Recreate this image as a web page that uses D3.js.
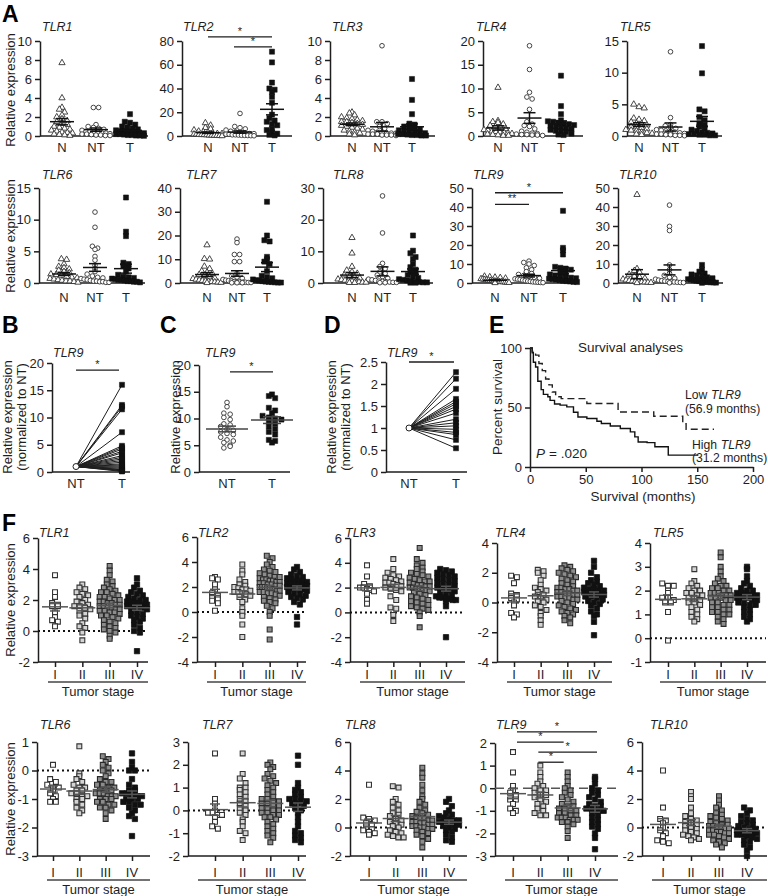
<!DOCTYPE html>
<html><head><meta charset="utf-8">
<script src="https://cdn.jsdelivr.net/npm/d3@7"></script>
<style>body{margin:0;background:#fff}</style>
</head><body>
<svg id="c" width="768" height="896"></svg>
<script>
// ---------------- DATA ----------------
const catsA = ["N", "NT", "T"];
const catsF = ["I", "II", "III", "IV"];
const genes = ["TLR1","TLR2","TLR3","TLR4","TLR5","TLR6","TLR7","TLR8","TLR9","TLR10"];

// Panel A: relative expression (N = normal, NT = non-tumor, T = tumor)
const a1N  = [7.7,4.0,3.0,2.8,2.5,2.2,2.0,1.8,1.6,1.5,1.3,1.2,1.0,0.9,0.8,0.7,0.6,0.5,0.4,0.35,0.3,0.2,0.15,0.1,0.05];
const a1NT = [3.0,3.0,1.2,1.0,0.9,0.8,0.7,0.6,0.5,0.5,0.4,0.4,0.3,0.3,0.25,0.2,0.2,0.15,0.1,0.1,0.05,0.05];
const a1T  = [2.3,1.5,1.4,1.2,1.0,0.9,0.8,0.7,0.6,0.5,0.5,0.4,0.4,0.3,0.3,0.2,0.2,0.15,0.1,0.1,0.05,0.05,0.02];
const a2N  = [11,9,7,6,5,4,3.5,3,2.5,2,2,1.5,1.5,1.2,1,1,0.8,0.6,0.5,0.4,0.3,0.2,0.1];
const a2NT = [19,8,7,6,5,4,3.5,3,2.5,2,2,1.5,1.5,1,1,0.8,0.6,0.5,0.4,0.3,0.2];
const a2T  = [71,62,45,40,39,37,33,28,18,15,13,12,10,9,6,5,3,2,1,0.5];
const a3N  = [2.5,2.4,2.2,2.0,1.9,1.8,1.7,1.6,1.5,1.5,1.4,1.3,1.2,1.1,1.0,0.9,0.8,0.7,0.6,0.5,0.4,0.3,0.2,0.1];
const a3NT = [9.5,1.5,1.5,1.3,1.0,0.8,0.6,0.5,0.4,0.4,0.3,0.3,0.3,0.2,0.2,0.2,0.1,0.1,0.1,0.05];
const a3T  = [6.0,3.8,2.3,1.3,1.2,1.0,0.9,0.8,0.7,0.6,0.5,0.4,0.4,0.3,0.3,0.2,0.2,0.15,0.1,0.1,0.05,0.05];
const a4N  = [10.2,3.2,3.0,2.8,2.5,2.2,2.0,1.8,1.5,1.3,1.2,1.0,0.9,0.8,0.7,0.6,0.5,0.4,0.3,0.2,0.1,0.1];
const a4NT = [19,14,9.2,8.2,7.8,5.6,3.0,2.5,2.2,2.0,1.5,1.0,0.8,0.6,0.5,0.4,0.3,0.3,0.2,0.2,0.1];
const a4T  = [12.7,6.3,4.6,3.3,3.1,3.0,2.8,2.6,2.5,2.3,2.1,2.0,1.8,1.6,1.5,1.3,1.1,1.0,0.8,0.5,0.3,0.2];
const a5N  = [5.0,4.6,4.4,2.8,2.6,2.4,2.2,2.0,1.9,1.7,1.5,1.4,1.3,1.1,1.0,0.9,0.8,0.6,0.5,0.4,0.3,0.2];
const a5NT = [13.3,2.9,1.8,1.6,1.4,1.2,1.0,0.9,0.8,0.7,0.6,0.5,0.4,0.3,0.3,0.2,0.2,0.1,0.1,0.05];
const a5T  = [14.2,9.9,4.2,3.9,3.0,2.5,2.0,1.7,1.5,1.2,1.0,0.8,0.6,0.5,0.4,0.3,0.3,0.2,0.2,0.1,0.1];
const a6N  = [3.8,3.7,3.0,2.6,2.4,2.2,2.0,1.8,1.6,1.4,1.3,1.2,1.0,0.9,0.8,0.7,0.6,0.5,0.4,0.3,0.3,0.2,0.1];
const a6NT = [11.2,8.8,5.8,5.5,5.3,4.2,3.6,2.8,2.2,1.8,1.4,1.1,0.9,0.8,0.7,0.6,0.5,0.4,0.3,0.3,0.2,0.2,0.1,0.1];
const a6T  = [13.5,8.1,7.4,3.2,3.0,2.7,2.3,1.8,1.3,1.0,0.9,0.8,0.7,0.6,0.5,0.5,0.4,0.3,0.3,0.2,0.2,0.1];
const a7N  = [16,10.2,10,7,6,5,4.5,4,3.5,3,2.5,2,1.8,1.5,1.2,1,0.8,0.6,0.5,0.4,0.3,0.2,0.1];
const a7NT = [18.5,17,12,12,9,9,4,3,2.5,2,1.5,1.2,1,0.8,0.6,0.5,0.4,0.3,0.3,0.2,0.2,0.1,0.1,0.1];
const a7T  = [34.2,20,18,17.5,11,10,9,8,5,3,2.5,2,1.5,1.2,1,0.8,0.6,0.5,0.4,0.3,0.2,0.2];
const a8N  = [14.3,9.4,5.2,4.0,3.5,3.0,2.5,2.0,1.8,1.5,1.2,1.0,0.8,0.6,0.5,0.4,0.3,0.2,0.2,0.1,0.1];
const a8NT = [27.5,15.8,6.2,5.2,4.5,3.5,3.0,2.5,2.0,1.5,1.2,1.0,0.8,0.6,0.5,0.4,0.3,0.2,0.2,0.1,0.1];
const a8T  = [15,10.2,9.4,8.2,7.6,6.0,5.0,4.2,3.5,3.0,2.5,2.0,1.6,1.2,1.0,0.8,0.6,0.4,0.3,0.2,0.2,0.1,0.1];
const a9N  = [3.5,3.2,3.0,2.8,2.5,2.2,2.0,1.8,1.6,1.5,1.3,1.2,1.0,0.9,0.8,0.7,0.6,0.5,0.4,0.3,0.2,0.1];
const a9NT = [11.5,10.8,10,9.2,8,7,6,5,4.5,4,3.5,3,2.5,2.2,2,1.8,1.5,1.2,1,0.8,0.6,0.5,0.4,0.3,0.2];
const a9T  = [38,18.5,17.2,15,8.5,8,7.6,7,6,5,4.5,4,3.5,3,2.8,2.5,2.2,2,1.8,1.5,1.2,1,0.8,0.6,0.5];
const a10N  = [46.5,7.5,6.5,5.5,4.5,3.5,3,2.5,2,1.5,1.2,1,0.8,0.6,0.5,0.4,0.3,0.2,0.1];
const a10NT = [41,29.8,27.6,9.5,7,5,4,3,2.5,2,1.5,1.2,1,0.8,0.6,0.5,0.4,0.3,0.2,0.1];
const a10T  = [9.5,7,6,5,4.5,4,3.5,3,2.5,2,1.8,1.5,1.2,1,0.8,0.6,0.5,0.4,0.3,0.2,0.1];
const ticksA = [[0,2,4,6,8,10],[0,20,40,60,80],[0,2,4,6,8,10],[0,5,10,15,20],[0,5,10,15],
                [0,5,10,15],[0,10,20,30,40],[0,10,20,30],[0,10,20,30,40,50],[0,10,20,30,40,50]];

// Panel B: TLR9 tumor vs paired NT (normalized to NT = 1)
const bNT = 1;
const bT = [16,12.3,12,11.5,7.3,4.8,4.5,4.2,3.8,3.5,3.0,2.7,2.4,2.1,1.8,1.5,1.3,1.1,0.9,0.7,0.5,0.4,0.3,0.2,0.1];
const ticksB = [0,5,10,15,20];
// Panel C
const cNT = [13.0,12.2,11.0,10.8,10.2,9.8,9.0,8.8,8.5,8.0,7.8,7.5,7.2,7.0,6.5,6.0,5.8,5.5,5.0,4.5,4.8];
const cT  = [14.5,14.2,13.8,12.0,11.5,11.0,10.5,10.2,10.0,9.8,9.5,9.0,8.5,8.0,7.5,7.0,6.0,5.8,5.5];
const ticksC = [0,5,10,15,20];
// Panel D
const dNT = 1;
const dT = [2.27,2.12,1.89,1.66,1.6,1.55,1.49,1.43,1.34,1.2,1.12,1.05,0.97,0.9,0.85,0.73,0.54];
const ticksD = [0,0.5,1,1.5,2,2.5];
// Panel E: Kaplan-Meier (months, percent survival)
const lowTime  = [0,2,5,8,11,14,17,20,23,28,51,79,111,137,140,165];
const lowSurv  = [100,97,94,87,81,74,69,63,59,57.5,53.3,46.2,42.6,36.4,31.7,31.7];
const highTime = [0,2,3,5,7,10,12,16,18,22,27,33,39,43,51,60,64,72,81,90,94,97,105,112,124,151];
const highSurv = [100,96,88,84,72,65,61,59,56,53,52,50.5,46,42,40.7,38.4,36.5,34.5,32.3,29.5,25.3,21,20.5,17,10,10];
const ticksEx = [0,50,100,150,200];
const ticksEy = [0,50,100];

// Panel F: expression by tumor stage
const f1I = [3.6,2.5,2.2,1.8,1.7,1.6,1.6,1.2,0.9,0.7,0.6,0.3];
const f1II = [3.0,2.8,2.7,2.5,2.4,2.3,2.2,2.0,1.9,1.8,1.7,1.6,1.6,1.5,1.4,1.3,1.1,1.0,0.8,0.5,0.3,0.2,-0.1,-0.6];
const f1III = [4.2,3.9,3.6,3.3,3.2,3.0,2.9,2.8,2.7,2.6,2.5,2.5,2.4,2.3,2.2,2.2,2.1,2.0,2.0,1.9,1.9,1.8,1.8,1.7,1.7,1.6,1.6,1.5,1.5,1.4,1.4,1.3,1.3,1.2,1.2,1.1,1.0,1.0,0.9,0.8,0.7,0.6,0.5,0.4,0.3,0.2,0.1,0.0,-0.1,-0.3,-0.5];
const f1IV = [3.4,3.0,2.8,2.6,2.5,2.4,2.3,2.2,2.1,2.0,2.0,1.9,1.9,1.8,1.8,1.7,1.7,1.6,1.6,1.5,1.5,1.4,1.3,1.2,1.1,1.0,0.9,0.8,0.7,0.6,0.4,0.2,0.0,-0.1,-1.3];
const f2I = [2.8,2.7,2.6,2.2,1.8,1.5,1.3,1.2,1.0,0.9,0.7,0.1];
const f2II = [3.8,3.3,3.0,2.6,2.4,2.2,2.1,2.0,1.9,1.8,1.8,1.7,1.6,1.6,1.5,1.4,1.3,1.2,1.0,0.8,0.3,0.0,-0.3,-1.0,-2.0];
const f2III = [4.5,4.3,4.0,3.8,3.6,3.4,3.3,3.2,3.1,3.0,2.9,2.8,2.8,2.7,2.6,2.6,2.5,2.5,2.4,2.4,2.3,2.3,2.2,2.2,2.1,2.1,2.0,2.0,2.0,1.9,1.9,1.8,1.8,1.7,1.7,1.6,1.6,1.5,1.5,1.4,1.3,1.2,1.1,1.0,0.9,0.8,0.7,0.5,0.3,0.0,-0.3,-1.4,-2.2];
const f2IV = [3.6,3.4,3.2,3.0,2.9,2.8,2.7,2.6,2.5,2.5,2.4,2.4,2.3,2.3,2.2,2.2,2.1,2.1,2.0,2.0,1.9,1.9,1.8,1.8,1.7,1.6,1.5,1.4,1.3,1.2,1.1,1.0,0.8,0.6,-0.4,-1.0];
const f3I = [3.8,2.9,2.3,2.1,2.0,2.0,1.9,1.8,1.7,1.5,1.0,0.7];
const f3II = [4.3,3.5,3.2,3.0,2.9,2.8,2.7,2.6,2.5,2.4,2.4,2.3,2.2,2.1,2.0,1.9,1.8,1.7,1.3,1.0,0.4,0.3,-0.2,-0.7];
const f3III = [5.2,4.3,4.0,3.8,3.6,3.5,3.3,3.2,3.1,3.0,2.9,2.8,2.7,2.6,2.5,2.5,2.4,2.3,2.2,2.2,2.1,2.1,2.0,2.0,1.9,1.9,1.8,1.8,1.7,1.6,1.5,1.4,1.3,1.2,1.1,1.0,0.9,0.8,0.7,0.6,0.5,0.4,0.3,0.2,0.0,-0.3,-1.2];
const f3IV = [3.5,3.4,3.3,3.2,3.1,3.0,2.9,2.8,2.7,2.6,2.5,2.4,2.3,2.2,2.1,2.0,1.9,1.8,1.7,1.6,1.5,1.4,1.3,1.2,1.2,1.1,1.1,1.0,1.0,0.9,0.5,-2.0];
const f4I = [1.8,1.7,1.3,0.6,0.5,0.3,0.2,0.0,-0.2,-0.7,-0.8,-1.0];
const f4II = [2.2,2.1,2.0,1.8,1.5,1.2,1.0,0.9,0.8,0.7,0.5,0.4,0.3,0.2,0.1,0.0,-0.2,-0.3,-0.5,-0.7,-0.9,-1.2,-1.5];
const f4III = [2.5,2.4,2.3,2.2,2.1,2.0,1.9,1.8,1.7,1.6,1.5,1.4,1.3,1.2,1.1,1.0,1.0,0.9,0.9,0.8,0.8,0.7,0.7,0.6,0.6,0.5,0.5,0.4,0.4,0.3,0.3,0.2,0.2,0.1,0.0,-0.1,-0.2,-0.3,-0.4,-0.5,-0.6,-0.7,-0.8,-0.9,-1.0,-1.2,-1.4];
const f4IV = [2.8,2.4,2.0,1.7,1.5,1.4,1.3,1.2,1.1,1.0,0.9,0.9,0.8,0.8,0.7,0.7,0.6,0.6,0.5,0.5,0.4,0.4,0.3,0.2,0.1,0.0,-0.1,-0.2,-0.4,-0.6,-0.8,-0.9,-1.3,-2.2];
const f5I = [2.3,2.2,2.2,2.0,1.9,1.7,1.7,1.6,1.5,1.5,1.1,-0.1];
const f5II = [2.9,2.4,2.3,2.2,2.1,2.0,2.0,1.9,1.9,1.8,1.8,1.7,1.7,1.6,1.5,1.5,1.4,1.3,1.2,1.1,1.0,0.9,0.8,0.7];
const f5III = [3.6,3.4,3.0,2.8,2.6,2.5,2.4,2.3,2.2,2.2,2.1,2.1,2.0,2.0,1.9,1.9,1.9,1.8,1.8,1.8,1.7,1.7,1.7,1.6,1.6,1.5,1.5,1.4,1.4,1.3,1.3,1.2,1.2,1.1,1.1,1.0,1.0,0.9,0.8,0.7,0.6];
const f5IV = [3.0,2.9,2.6,2.4,2.3,2.2,2.1,2.0,2.0,1.9,1.9,1.8,1.8,1.8,1.7,1.7,1.7,1.6,1.6,1.5,1.5,1.4,1.4,1.3,1.2,1.1,1.0,0.9,0.8,0.7];
const f6I = [0.2,-0.3,-0.4,-0.5,-0.6,-0.6,-0.7,-0.8,-0.9,-1.0,-1.1,-1.1];
const f6II = [0.85,-0.1,-0.2,-0.3,-0.4,-0.5,-0.6,-0.6,-0.7,-0.7,-0.8,-0.8,-0.9,-0.9,-1.0,-1.0,-1.1,-1.2,-1.3,-1.4,-1.5];
const f6III = [0.5,0.4,0.3,0.2,0.1,0.0,-0.1,-0.2,-0.3,-0.4,-0.4,-0.5,-0.5,-0.6,-0.6,-0.7,-0.7,-0.7,-0.8,-0.8,-0.8,-0.9,-0.9,-0.9,-1.0,-1.0,-1.0,-1.1,-1.1,-1.2,-1.2,-1.3,-1.3,-1.4,-1.5,-1.7];
const f6IV = [0.6,0.3,0.1,0.0,0.0,-0.3,-0.5,-0.6,-0.7,-0.7,-0.8,-0.8,-0.9,-0.9,-0.9,-1.0,-1.0,-1.0,-1.1,-1.1,-1.2,-1.2,-1.3,-1.4,-1.5,-1.6,-1.7,-2.3];
const f7I = [2.5,0.5,0.3,0.0,-0.1,-0.1,-0.2,-0.2,-0.3,-0.5,-0.7,-0.8];
const f7II = [2.5,1.6,1.4,1.2,1.0,1.0,0.9,0.8,0.7,0.6,0.5,0.4,0.3,0.2,0.1,0.0,-0.1,-0.2,-0.4,-0.5,-0.7,-0.9,-1.0,-1.3];
const f7III = [2.1,2.0,1.9,1.8,1.6,1.5,1.4,1.3,1.2,1.1,1.0,0.9,0.8,0.7,0.6,0.5,0.5,0.4,0.4,0.3,0.3,0.2,0.2,0.1,0.1,0.0,0.0,-0.1,-0.1,-0.2,-0.2,-0.3,-0.3,-0.4,-0.5,-0.6,-0.7,-0.8,-0.9,-1.0,-1.1,-1.2,-1.4];
const f7IV = [2.4,2.0,1.2,1.0,0.9,0.8,0.7,0.6,0.5,0.5,0.4,0.4,0.3,0.3,0.2,0.1,0.0,-0.1,-0.3,-0.5,-0.7,-0.9,-1.0,-1.1,-1.2,-1.3,-1.4];
const f8I = [3.0,0.7,0.6,0.5,0.3,0.2,0.0,-0.1,-0.2,-0.3,-0.4,-0.5];
const f8II = [2.9,2.8,2.0,1.8,1.6,1.4,1.2,1.0,0.9,0.8,0.6,0.5,0.4,0.3,0.2,0.1,0.0,-0.2,-0.3,-0.4,-0.5,-0.6,-0.7,-0.7];
const f8III = [4.2,3.8,3.5,3.0,2.6,2.2,2.0,1.8,1.6,1.4,1.2,1.1,1.0,0.9,0.8,0.7,0.6,0.6,0.5,0.5,0.4,0.4,0.3,0.3,0.2,0.2,0.1,0.1,0.0,0.0,-0.1,-0.1,-0.2,-0.3,-0.4,-0.5,-0.6,-0.8,-1.0,-1.4];
const f8IV = [2.0,1.8,1.5,1.2,1.0,0.9,0.8,0.7,0.6,0.5,0.5,0.4,0.4,0.3,0.3,0.2,0.2,0.1,0.0,-0.1,-0.2,-0.3,-0.5,-0.7,-0.9,-1.0];
const f9I = [1.6,0.7,0.1,-0.1,-0.2,-0.3,-0.5,-0.5,-0.7,-0.9,-1.0,-1.1];
const f9II = [1.0,0.7,0.5,0.3,0.2,0.1,0.0,-0.1,-0.1,-0.2,-0.3,-0.3,-0.4,-0.5,-0.6,-0.7,-0.8,-0.9,-1.0,-1.1,-1.2,-1.2];
const f9III = [0.7,0.5,0.3,0.1,0.0,-0.1,-0.2,-0.3,-0.4,-0.5,-0.6,-0.7,-0.8,-0.8,-0.9,-0.9,-1.0,-1.0,-1.1,-1.1,-1.2,-1.2,-1.3,-1.3,-1.3,-1.4,-1.4,-1.4,-1.5,-1.5,-1.6,-1.7,-1.9,-2.2];
const f9IV = [0.5,0.4,0.2,0.0,-0.1,-0.2,-0.3,-0.4,-0.5,-0.6,-0.7,-0.8,-0.8,-0.9,-0.9,-1.0,-1.0,-1.1,-1.2,-1.3,-1.4,-1.5,-1.6,-1.7,-1.8,-2.0,-2.2,-2.7];
const f10I = [4.0,1.4,0.6,0.5,0.3,0.0,-0.2,-0.4,-0.6,-0.9,-1.0,-1.1];
const f10II = [2.5,2.2,2.0,1.4,1.0,0.8,0.6,0.5,0.4,0.3,0.2,0.1,0.0,-0.1,-0.2,-0.3,-0.4,-0.5,-0.6,-0.7,-0.8,-0.9];
const f10III = [2.2,1.9,1.6,1.4,1.2,1.0,0.9,0.8,0.7,0.6,0.5,0.4,0.3,0.2,0.2,0.1,0.1,0.0,0.0,-0.1,-0.1,-0.2,-0.2,-0.3,-0.3,-0.4,-0.4,-0.5,-0.5,-0.6,-0.7,-0.8,-0.9,-1.0,-1.1,-1.2,-1.4];
const f10IV = [1.4,1.2,1.0,0.8,0.6,0.5,0.4,0.3,0.2,0.1,0.0,-0.1,-0.1,-0.2,-0.2,-0.3,-0.3,-0.4,-0.4,-0.5,-0.5,-0.6,-0.7,-0.8,-0.9,-1.0,-1.2,-1.4,-1.6,-2.0];
const ticksF = [[-2,0,2,4,6],[-4,-2,0,2,4,6],[-4,-2,0,2,4,6],[-4,-2,0,2,4],[-1,0,1,2,3,4],
                [-3,-2,-1,0,1],[-2,-1,0,1,2,3],[-2,0,2,4,6],[-3,-2,-1,0,1,2],[-2,0,2,4,6]];

// ---------------- DRAWING ----------------
const svg = d3.select("#c");
const FONT = "'Liberation Sans', Arial, Helvetica, sans-serif";
const INK = "#1e1e1e";

function txt(x, y, s, o = {}) {
  const t = svg.append("text").attr("x", x).attr("y", y).text(s)
    .attr("font-family", FONT).attr("font-size", o.size || 13).attr("fill", o.fill || INK)
    .attr("text-anchor", o.anchor || "start");
  if (o.italic) t.attr("font-style", "italic");
  if (o.bold) t.attr("font-weight", "bold");
  if (o.rot) t.attr("transform", `rotate(-90,${x},${y})`);
  return t;
}
// two-part text (plain + italic) as separate elements placed side by side with a word gap
function txt2(x, y, a, b, o = {}, aItalic = false) {
  const t1 = txt(x, y, a, Object.assign({}, o, {italic: aItalic}));
  const w = t1.node().getComputedTextLength();
  const gap = (o.size || 13) * 0.3;
  txt(x + w + gap, y, b, Object.assign({}, o, {italic: !aItalic}));
}
function line(x1, y1, x2, y2, o = {}) {
  return svg.append("line").attr("x1", x1).attr("y1", y1).attr("x2", x2).attr("y2", y2)
    .attr("stroke", o.stroke || INK).attr("stroke-width", o.sw || 1.5)
    .attr("stroke-dasharray", o.dash || null);
}
function styleAxis(g) {
  g.select(".domain").attr("stroke", INK).attr("stroke-width", 1.5);
  g.selectAll(".tick line").attr("stroke", INK).attr("stroke-width", 1.5);
  g.selectAll(".tick text").attr("font-family", FONT).attr("font-size", 13).attr("fill", INK);
}
function yAxis(ax, y, ticks) {
  const g = svg.append("g").attr("transform", `translate(${ax},0)`)
    .call(d3.axisLeft(y).tickValues(ticks).tickSize(5).tickSizeOuter(0).tickPadding(3).tickFormat(d => String(d)));
  styleAxis(g);
}
const MK = {
  tri:  {sym: d3.symbolTriangle, size: 17, fill: "#fff", stroke: "#333", sw: 0.9},
  circ: {sym: d3.symbolCircle, size: 17, fill: "#fff", stroke: "#333", sw: 0.9},
  sq:   {sym: d3.symbolSquare, size: 26, fill: "#111", stroke: "#111", sw: 0.5},
  fI:   {sym: d3.symbolSquare, size: 24, fill: "#fff", stroke: "#333", sw: 1.1},
  fII:  {sym: d3.symbolSquare, size: 24, fill: "#d4d4d4", stroke: "#333", sw: 1.1},
  fIII: {sym: d3.symbolSquare, size: 24, fill: "#8c8c8c", stroke: "#2a2a2a", sw: 1.1},
  fIV:  {sym: d3.symbolSquare, size: 28, fill: "#111", stroke: "#111", sw: 0.8}
};
function mark(x, y, k) {
  const m = MK[k];
  svg.append("path").attr("d", d3.symbol(m.sym, m.size)()).attr("transform", `translate(${x},${y})`)
    .attr("fill", m.fill).attr("stroke", m.stroke).attr("stroke-width", m.sw);
}
function swarm(vals, y, size, maxHalf) {
  const pts = vals.map(v => ({v, py: y(v)}));
  d3.groups(pts, p => Math.round(p.py / (size * 0.85))).forEach(([k, arr]) => {
    const n = arr.length;
    const step = n > 1 ? Math.min(size * 1.05, 2 * maxHalf / (n - 1)) : 0;
    arr.forEach((p, i) => p.dx = (i - (n - 1) / 2) * step);
  });
  return pts;
}
function meanBar(x, vals, y, w, cw, color) {
  const m = d3.mean(vals), se = d3.deviation(vals) / Math.sqrt(vals.length);
  const o = {stroke: color, sw: 1.5};
  line(x, y(m - se), x, y(m + se), o);
  line(x - cw / 2, y(m + se), x + cw / 2, y(m + se), o);
  line(x - cw / 2, y(m - se), x + cw / 2, y(m - se), o);
  line(x - w / 2, y(m), x + w / 2, y(m), o);
}
function sig(x1, x2, yy, label) {
  line(x1, yy, x2, yy, {sw: 1.3});
  txt((x1 + x2) / 2, yy - 2, label, {size: 11, anchor: "middle"});
}

// Panel letters
[["A", 2, 22], ["B", 2, 333], ["C", 160, 333], ["D", 324, 333], ["E", 489, 333], ["F", 2, 531]]
  .forEach(([s, x, y]) => txt(x, y, s, {size: 23, bold: true, fill: "#000"}));

// ----- Panel A -----
const dataA = [[a1N,a1NT,a1T],[a2N,a2NT,a2T],[a3N,a3NT,a3T],[a4N,a4NT,a4T],[a5N,a5NT,a5T],
               [a6N,a6NT,a6T],[a7N,a7NT,a7T],[a8N,a8NT,a8T],[a9N,a9NT,a9T],[a10N,a10NT,a10T]];
// layout: axis x, first cat x, last cat x, axis end x, title x
const layA = [[40,62,130,148,42],[182,208,272,292,183],[330,352,412,435,332],[483,498,561,583,476],[627,639,702,722,620],
              [39,64,126,145,42],[180,207,267,280,186],[323,352,413,433,333],[472,495,563,578,473],[618,637,702,723,619]];
const mkA = ["tri", "circ", "sq"];
const scalesA = [];
dataA.forEach((d, i) => {
  const L = layA[i], row = i < 5 ? 0 : 1;
  const yTop = row ? 188 : 41, yBot = row ? 283 : 136;
  const y = d3.scaleLinear().domain([0, d3.max(ticksA[i])]).range([yBot, yTop]);
  const x = d3.scalePoint().domain(catsA).range([L[1], L[2]]);
  scalesA.push({x, y});
  yAxis(L[0], y, ticksA[i]);
  line(L[0], yBot, L[3], yBot);
  catsA.forEach((c, j) => {
    swarm(d[j], y, 5, 14).forEach(p => mark(x(c) + p.dx, p.py, mkA[j]));
  });
  catsA.forEach((c, j) => meanBar(x(c), d[j], y, 24, 12, "#111"));
  catsA.forEach(c => txt(x(c), row ? 302 : 152, c, {anchor: "middle"}));
  txt(L[4], row ? 179 : 31, genes[i], {size: 12.5, italic: true});
});
txt(15, 90, "Relative expression", {rot: true, anchor: "middle"});
txt(15, 236, "Relative expression", {rot: true, anchor: "middle"});
// significance in A
{ const s = scalesA[1]; sig(s.x("N"), s.x("T"), s.y(83.5), "*"); sig(s.x("NT") - 6, s.x("T"), s.y(75), "*"); }
{ const s = scalesA[8]; sig(s.x("N"), s.x("T"), s.y(47.5), "*"); sig(s.x("N"), s.x("NT"), s.y(41.4), "**"); }

// ----- Panel B -----
{
  const y = d3.scaleLinear().domain([0, 20]).range([472, 363]);
  const x = d3.scalePoint().domain(["NT", "T"]).range([76, 122]);
  yAxis(52, y, ticksB);
  line(52, 472, 130, 472);
  bT.forEach(v => line(x("NT"), y(bNT), x("T"), y(v), {sw: 1}));
  bT.forEach(v => mark(x("T"), y(v), "sq"));
  svg.append("circle").attr("cx", x("NT")).attr("cy", y(bNT)).attr("r", 3).attr("fill", "#fff").attr("stroke", "#222").attr("stroke-width", 1);
  ["NT", "T"].forEach(c => txt(x(c), 488, c, {anchor: "middle"}));
  txt(53, 357, "TLR9", {size: 12.5, italic: true});
  sig(x("NT"), x("T") - 3, y(18.7), "*");
  txt(12, 417, "Relative expression", {rot: true, anchor: "middle"});
  txt(26, 417, "(normalized to NT)", {rot: true, anchor: "middle"});
}
// ----- Panel C -----
{
  const y = d3.scaleLinear().domain([0, 20]).range([472, 365]);
  const x = d3.scalePoint().domain(["NT", "T"]).range([227, 272]);
  yAxis(199, y, ticksC);
  line(199, 472, 290, 472);
  swarm(cNT, y, 6, 17).forEach(p => mark(x("NT") + p.dx, p.py, "circ"));
  swarm(cT, y, 6, 16).forEach(p => mark(x("T") + p.dx, p.py, "sq"));
  meanBar(x("NT"), cNT, y, 42, 18, "#444");
  meanBar(x("T"), cT, y, 42, 18, "#444");
  ["NT", "T"].forEach(c => txt(x(c), 488, c, {anchor: "middle"}));
  txt(205, 357, "TLR9", {size: 12.5, italic: true});
  sig(x("NT") + 3, x("T") + 1, y(18.7), "*");
  txt(180, 417, "Relative expression", {rot: true, anchor: "middle"});
}
// ----- Panel D -----
{
  const y = d3.scaleLinear().domain([0, 2.5]).range([472, 362]);
  const x = d3.scalePoint().domain(["NT", "T"]).range([409, 456]);
  yAxis(386, y, ticksD);
  line(386, 472, 467, 472);
  dT.forEach(v => line(x("NT"), y(dNT), x("T"), y(v), {sw: 1}));
  dT.forEach(v => mark(x("T"), y(v), "sq"));
  svg.append("circle").attr("cx", x("NT")).attr("cy", y(dNT)).attr("r", 3).attr("fill", "#fff").attr("stroke", "#222").attr("stroke-width", 1);
  ["NT", "T"].forEach(c => txt(x(c), 488, c, {anchor: "middle"}));
  txt(387, 357, "TLR9", {size: 12.5, italic: true});
  sig(x("NT"), x("T") - 2, y(2.5), "*");
  txt(336, 417, "Relative expression", {rot: true, anchor: "middle"});
  txt(350, 417, "(normalized to NT)", {rot: true, anchor: "middle"});
}
// ----- Panel E -----
{
  const x = d3.scaleLinear().domain([0, 200]).range([530, 753]);
  const y = d3.scaleLinear().domain([0, 100]).range([467, 348]);
  yAxis(530, y, ticksEy);
  const gx = svg.append("g").attr("transform", "translate(0,467)")
    .call(d3.axisBottom(x).tickValues(ticksEx).tickSize(5).tickSizeOuter(0).tickPadding(3).tickFormat(d => String(d)));
  styleAxis(gx);
  const ln = d3.line().x(d => x(d[0])).y(d => y(d[1])).curve(d3.curveStepAfter);
  svg.append("path").attr("d", ln(d3.zip(highTime, highSurv))).attr("fill", "none").attr("stroke", "#111").attr("stroke-width", 1.4);
  svg.append("path").attr("d", ln(d3.zip(lowTime, lowSurv))).attr("fill", "none").attr("stroke", "#222").attr("stroke-width", 1.4).attr("stroke-dasharray", "7,4");
  txt(578, 352, "Survival analyses", {size: 13.5});
  const fs = {size: 12.2};
  txt2(685, 399, "Low", "TLR9", fs);
  txt(685, 413, "(56.9 months)", fs);
  txt2(692, 449, "High", "TLR9", fs);
  txt(692, 462, "(31.2 months)", fs);
  txt2(536, 458, "P", "= .020", {size: 13.5}, true);
  txt(643, 501, "Survival  (months)", {anchor: "middle", size: 13.5});
  txt(502, 407, "Percent survival", {rot: true, anchor: "middle", size: 13.5});
}

// ----- Panel F -----
const dataF = [[f1I,f1II,f1III,f1IV],[f2I,f2II,f2III,f2IV],[f3I,f3II,f3III,f3IV],[f4I,f4II,f4III,f4IV],[f5I,f5II,f5III,f5IV],
               [f6I,f6II,f6III,f6IV],[f7I,f7II,f7III,f7IV],[f8I,f8II,f8III,f8IV],[f9I,f9II,f9III,f9IV],[f10I,f10II,f10III,f10IV]];
// layout: axis x, first cat x, last cat x, axis end x, title x, top y
const layF = [[38,55,137,148,39,538],[197,215,297,306,198,537],[350,367,446,465,345,538],[497,514,594,612,495,543],[650,668,747,766,653,543],
              [37,53,132,150,40,742],[188,215,298,306,202,742],[350,369,449,467,345,742],[495,513,595,618,496,743],[642,663,747,767,650,742]];
const mkF = ["fI", "fII", "fIII", "fIV"];
const halfF = [7, 8, 10, 10];
const scalesF = [];
dataF.forEach((d, i) => {
  const L = layF[i], row = i < 5 ? 0 : 1;
  const yBot = row ? 856 : 662;
  const y = d3.scaleLinear().domain(d3.extent(ticksF[i])).range([yBot, L[5]]);
  const x = d3.scalePoint().domain(catsF).range([L[1], L[2]]);
  scalesF.push({x, y});
  yAxis(L[0], y, ticksF[i]);
  const gx = svg.append("g").attr("transform", `translate(0,${yBot})`)
    .call(d3.axisBottom(x).tickSize(5).tickSizeOuter(0).tickFormat(() => ""));
  gx.select(".domain").remove();
  styleAxis(gx);
  line(L[0], yBot, L[3], yBot);
  if (i === 8) line(L[0], y(0), L[3], y(0), {stroke: "#555", sw: 1.5, dash: "9,5"});
  else line(L[0], y(0), L[3], y(0), {stroke: "#111", sw: 2, dash: "2,3"});
  catsF.forEach((c, j) => {
    swarm(d[j], y, 5.5, halfF[j]).forEach(p => mark(x(c) + p.dx, p.py, mkF[j]));
  });
  catsF.forEach((c, j) => meanBar(x(c), d[j], y, 26, 10, "#555"));
  const ly = row ? 877 : 679;
  catsF.forEach(c => txt(x(c), ly, c, {anchor: "middle"}));
  line(L[0] + 10, ly + 3, L[3], ly + 3, {stroke: "#444", sw: 1.3});
  txt((L[0] + 10 + L[3]) / 2, ly + 17, "Tumor stage", {anchor: "middle"});
  txt(L[4], row ? 729 : 537, genes[i], {size: 12.5, italic: true});
});
txt(15, 600, "Relative expression", {rot: true, anchor: "middle"});
txt(15, 799, "Relative expression", {rot: true, anchor: "middle"});
{ const s = scalesF[8];
  sig(s.x("I") + 4, s.x("IV") + 2, s.y(2.49), "*");
  sig(s.x("I") + 4, s.x("III") - 4, s.y(2.04), "*");
  sig(s.x("II") - 2, s.x("IV") + 2, s.y(1.6), "*");
  sig(s.x("II") - 2, s.x("III") - 4, s.y(1.15), "*"); }
</script>
</body></html>
